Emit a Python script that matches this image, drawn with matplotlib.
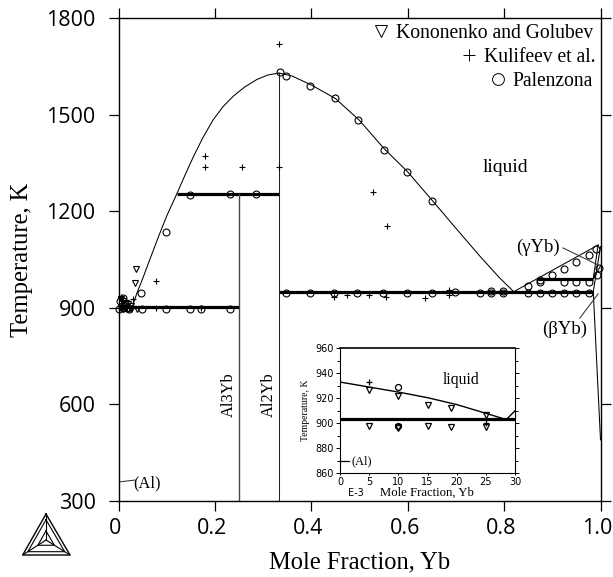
import matplotlib
matplotlib.use("Agg")
import matplotlib.pyplot as plt
from matplotlib.lines import Line2D
from matplotlib.transforms import ScaledTranslation

W, H = 613, 577
SERIF = "Liberation Serif"
SANS = "Open Sans"

# phase boundaries, main panel
left_liq_x = [0.0286, 0.038, 0.05, 0.065, 0.084, 0.10, 0.1207, 0.138, 0.155, 0.175, 0.196, 0.217, 0.238, 0.262, 0.287, 0.31, 0.333]
left_liq_t = [903, 945, 990, 1050, 1125, 1185, 1253, 1312, 1368, 1428, 1483, 1525, 1557, 1586, 1609, 1623, 1629]
right_liq_x = [0.333, 0.36, 0.40, 0.45, 0.50, 0.55, 0.60, 0.65, 0.70, 0.75, 0.79, 0.82]
right_liq_t = [1629, 1620, 1592, 1550, 1482, 1396, 1322, 1235, 1147, 1060, 994, 950]
al_liq_x = [0.0, 0.0286]
al_liq_t = [933, 903]
gamma_liq_x = [0.82, 0.995]
gamma_liq_t = [950, 1095]
gamma_sol_x = [0.995, 0.985, 1.0]
gamma_sol_t = [1095, 990, 1030]
beta_x = [0.985, 1.0]
beta_t = [950, 490]
beta2_x = [0.985, 1.0]
beta2_t = [950, 1090]
# invariant lines: (x start, x end, temperature)
inv_x0 = [0.0, 0.1207, 0.333, 0.868]
inv_x1 = [0.25, 0.333, 0.985, 0.985]
inv_t = [903, 1253, 950, 990]
# line compounds
comp_x = [0.25, 0.333]
comp_top = [1253, 1629]
comp_names = ["Al3Yb", "Al2Yb"]

# measurements, main panel
kon_x = [0.036, 0.034, 0.038, 0.005, 0.010, 0.015, 0.019, 0.025, 0.005, 0.010, 0.015, 0.019, 0.025]
kon_t = [1020, 977, 897, 927, 922, 915, 912, 907, 898, 896, 898, 897, 897]
kul_x = [0.333, 0.18, 0.18, 0.257, 0.333, 0.078, 0.03, 0.005, 0.025, 0.078, 0.171, 0.528, 0.557,
         0.448, 0.475, 0.52, 0.555, 0.636, 0.686, 0.686]
kul_t = [1720, 1370, 1337, 1337, 1337, 982, 927, 933, 900, 898, 898, 1260, 1155,
         932, 940, 940, 935, 930, 940, 955]
pal_x = [0.335, 0.3475, 0.397, 0.4485, 0.497, 0.55, 0.599, 0.651, 0.148, 0.232, 0.286, 0.099, 0.0467,
         0.048, 0.099, 0.148, 0.172, 0.231, 0.010, 0.010, 0.004, 0.007, 0.013, 0.018, 0.002, 0.021,
         0.3475, 0.398, 0.448, 0.495, 0.549, 0.599, 0.650, 0.698, 0.749, 0.773, 0.773, 0.798, 0.798,
         0.85, 0.874, 0.899, 0.924, 0.949, 0.976,
         0.874, 0.924, 0.949, 0.976,
         0.85, 0.874, 0.899, 0.924, 0.949, 0.976, 0.99, 0.992, 0.997]
pal_t = [1632, 1620, 1589, 1551, 1483, 1391, 1322, 1232, 1250, 1253, 1253, 1135, 946,
         897, 897, 897, 897, 897, 929, 898, 920, 905, 912, 900, 895, 897,
         947, 947, 947, 947, 947, 947, 947, 950, 947, 947, 951, 947, 951,
         945, 945, 945, 945, 945, 945,
         981, 981, 981, 981,
         967, 985, 1002, 1020, 1043, 1064, 1082, 1002, 1025]

# inset data (x in units of 1E-3)
in_liq_x = [0, 5, 10, 15, 20, 25, 28.5]
in_liq_t = [933, 929, 925, 920.5, 915, 908, 903]
in_up_x = [28.5, 30]
in_up_t = [903, 910]
in_eut_x = [0, 30]
in_eut_t = [903.5, 903.5]
in_al_x = [0, 1.6]
in_al_t = [870, 870]
in_kon_x = [5, 10, 15, 19, 25, 5, 10, 15, 19, 25, 10]
in_kon_t = [927, 922, 915, 912, 907, 898, 896, 898, 897, 897, 897]
in_kul_x = [5, 25]
in_kul_t = [933, 900]
in_pal_x = [10, 10]
in_pal_t = [929, 898]

x_ticks = [0, 0.2, 0.4, 0.6, 0.8, 1.0]
x_tick_labels = ["0", "0.2", "0.4", "0.6", "0.8", "1.0"]
y_ticks = [300, 600, 900, 1200, 1500, 1800]
in_xticks = [0, 5, 10, 15, 20, 25, 30]
in_yticks = [860, 880, 900, 920, 940, 960]
in_yminor = [870, 890, 910, 930, 950]

fig = plt.figure(figsize=(W / 100, H / 100), dpi=100, facecolor="white")


def px_axes(l, t, r, b):
    return fig.add_axes([l / W, 1 - b / H, (r - l) / W, (b - t) / H])


ax = px_axes(118.5, 18, 600.5, 501)
ax.set_xlim(0, 1)
ax.set_ylim(300, 1800)
TH = 0.75
for s in ax.spines.values():
    s.set_linewidth(1.0)
ax.tick_params(which="major", direction="out", length=7.5, width=0.9,
               top=True, right=True, bottom=True, left=True)
ax.tick_params(axis="both", labelsize=15.5)
ax.tick_params(axis="y", pad=9)
ax.tick_params(axis="x", pad=5)
ax.set_xticks(x_ticks, x_tick_labels, fontfamily=SANS)
ax.set_yticks(y_ticks, [str(v) for v in y_ticks], fontfamily=SANS)
shift = ScaledTranslation(-3 / 100, 0, fig.dpi_scale_trans)
for lab in ax.get_xticklabels():
    lab.set_transform(lab.get_transform() + shift)

for xs, ts in [(left_liq_x, left_liq_t), (right_liq_x, right_liq_t), (al_liq_x, al_liq_t),
               (gamma_liq_x, gamma_liq_t), (gamma_sol_x, gamma_sol_t), (beta_x, beta_t), (beta2_x, beta2_t)]:
    ax.plot(xs, ts, color="black", lw=TH, clip_on=False, zorder=2)
for x0, x1, t in zip(inv_x0, inv_x1, inv_t):
    ax.plot([x0, x1], [t, t], color="black", lw=2.3, solid_capstyle="butt", zorder=2)
ax.plot([comp_x[0], comp_x[0]], [300, comp_top[0]], color="#444444", lw=1.0, zorder=2)
ax.plot([comp_x[1], comp_x[1]], [300, comp_top[1]], color="#222222", lw=TH, zorder=2)

mk = dict(ls="none", color="black", mfc="none", clip_on=False, zorder=3)
ax.plot(kon_x, kon_t, marker="v", ms=5, mew=0.8, **mk)
ax.plot(kul_x, kul_t, marker="+", ms=5, mew=0.8, **mk)
ax.plot(pal_x, pal_t, marker="o", ms=5, mew=0.8, **mk)

# one right-aligned legend row per source
legend_rows = [("v", "Kononenko and Golubev", 33, 593),
               ("+", "Kulifeev et al.", 57, 595),
               ("o", "Palenzona", 81, 593)]
for m, lab, ypx, xpx in legend_rows:
    h = Line2D([], [], ls="none", marker=m, color="black", mfc="none", ms=8.5, mew=0.7)
    leg = ax.legend([h], [lab], loc="center right",
                    bbox_to_anchor=(xpx / W, 1 - ypx / H), bbox_transform=fig.transFigure,
                    frameon=False, borderpad=0, borderaxespad=0, handlelength=1.0, handletextpad=0.25,
                    prop={"family": SERIF, "size": 14.1})
    ax.add_artist(leg)
    ax.legend_ = None

ax.text(0.802, 1337, "liquid", family=SERIF, fontsize=14, ha="center", va="center")
ax.text(0.870, 1089, "(γYb)", family=SERIF, fontsize=13.5, ha="center", va="center")
ax.text(0.926, 834, "(βYb)", family=SERIF, fontsize=13.5, ha="center", va="center")
ax.text(0.059, 356, "(Al)", family=SERIF, fontsize=11.8, ha="center", va="center")
ax.plot([0.0, 0.034], [359, 365], color="#333333", lw=TH)
ax.plot([0.922, 0.995], [1086, 1033], color="#333333", lw=TH)
ax.plot([0.957, 0.995], [868, 943], color="#333333", lw=TH)
ax.text(0.229, 629, comp_names[0], family=SERIF, fontsize=11.8, rotation=90, ha="center", va="center")
ax.text(0.311, 629, comp_names[1], family=SERIF, fontsize=11.8, rotation=90, ha="center", va="center")

fig.text(22 / W, 1 - 260 / H, "Temperature, K", family=SERIF, fontsize=17.7, rotation=90, ha="center", va="center")
fig.text(360 / W, 1 - 562 / H, "Mole Fraction, Yb", family=SERIF, fontsize=17.7, ha="center", va="center")

# inset
ins = px_axes(340, 348.3, 515, 473.3)
ins.set_xlim(0, 30)
ins.set_ylim(860, 960)
for s in ins.spines.values():
    s.set_linewidth(0.8)
ins.spines["top"].set_linewidth(1.2)
ins.set_xticks(in_xticks)
ins.set_yticks(in_yticks)
ins.set_yticks(in_yminor, minor=True)
ins.tick_params(axis="both", which="major", direction="out", labelsize=7, width=0.7, pad=1.5,
                left=True, right=True, bottom=True, top=False)
ins.tick_params(axis="x", length=1.5)
ins.tick_params(axis="y", which="major", length=3)
ins.tick_params(axis="y", which="minor", direction="out", length=2, width=0.7, left=True, right=True)
ins.plot(in_liq_x, in_liq_t, color="black", lw=1.0)
ins.plot(in_up_x, in_up_t, color="black", lw=1.0)
ins.plot(in_eut_x, in_eut_t, color="black", lw=2.3, solid_capstyle="butt")
ins.plot(in_al_x, in_al_t, color="black", lw=0.9)
ins.plot(in_kon_x, in_kon_t, marker="v", ms=4.3, mew=0.9, **mk)
ins.plot(in_kul_x, in_kul_t, marker="+", ms=4.5, mew=0.9, **mk)
ins.plot(in_pal_x, in_pal_t, marker="o", ms=4.3, mew=0.9, **mk)
ins.text(20.7, 934.6, "liquid", family=SERIF, fontsize=11.3, ha="center", va="center")
ins.text(3.7, 870, "(Al)", family=SERIF, fontsize=9, ha="center", va="center")
fig.text(426.7 / W, 1 - 493 / H, "Mole Fraction, Yb", family=SERIF, fontsize=9.2, ha="center", va="center")
fig.text(355.7 / W, 1 - 493 / H, "E-3", family="DejaVu Sans", fontsize=7, ha="center", va="center")
fig.text(305 / W, 1 - 410 / H, "Temperature, K", family=SERIF, fontsize=7, rotation=90, ha="center", va="center")


# Thermo-Calc style logo
def logo_line(pts, lw=0.9):
    fig.add_artist(Line2D([p[0] / W for p in pts], [1 - p[1] / H for p in pts],
                          transform=fig.transFigure, color="black", lw=lw, solid_joinstyle="miter"))


A, B, C, O = (46, 514), (22.7, 555), (70, 555), (46, 540)
logo_line([A, B, C, A], 1.0)


def scaled(p, k):
    return (O[0] + (p[0] - O[0]) * k, O[1] + (p[1] - O[1]) * k)


for k in (0.78, 0.35):
    logo_line([scaled(A, k), scaled(B, k), scaled(C, k), scaled(A, k)], 0.8)
for v in (A, B, C):
    logo_line([v, O], 0.8)

fig.savefig("out.png", dpi=100)
